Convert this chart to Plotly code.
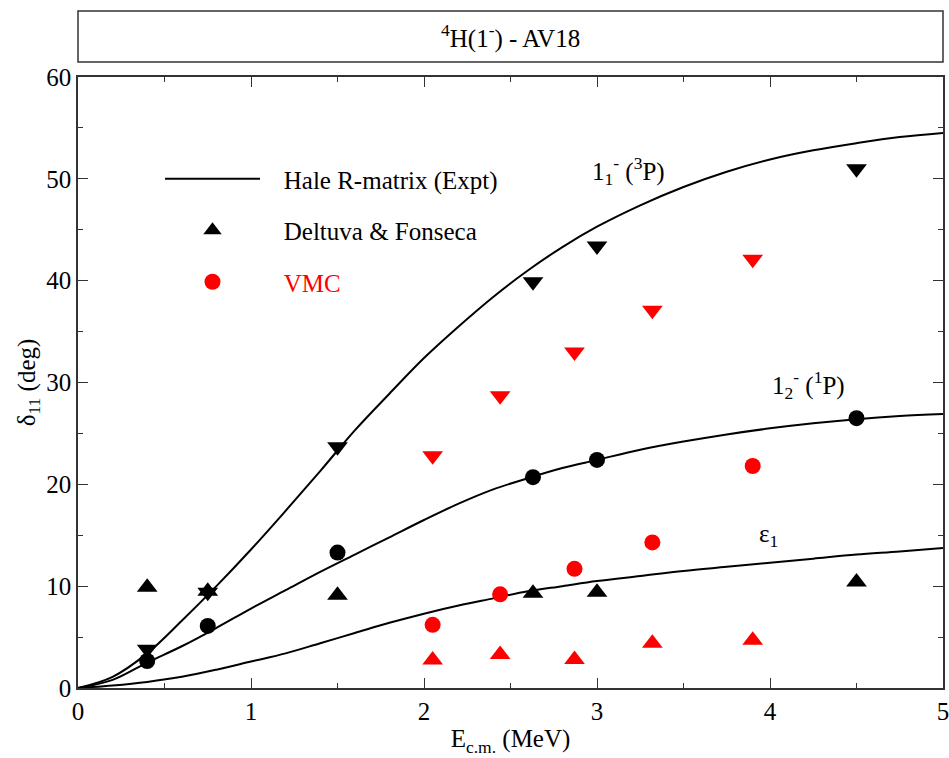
import plotly.graph_objects as go

# Hale R-matrix curves
curve_E = [0, 0.2, 0.4, 0.6, 0.8, 1.0, 1.2, 1.4, 1.6, 1.8, 2.0, 2.2, 2.4, 2.6, 2.8, 3.0,
           3.25, 3.5, 3.75, 4.0, 4.25, 4.5, 4.75, 5.0]
curve_3P = [0, 1.1, 3.4, 6.6, 10.0, 13.6, 17.4, 21.3, 25.3, 28.9, 32.4, 35.5, 38.4, 41.0, 43.3, 45.3,
            47.4, 49.2, 50.7, 51.9, 52.8, 53.5, 54.1, 54.5]
curve_1P = [0, 0.8, 2.5, 4.1, 5.9, 7.8, 9.6, 11.4, 13.1, 14.8, 16.5, 18.1, 19.5, 20.6, 21.6, 22.4,
            23.4, 24.2, 24.9, 25.5, 26.0, 26.4, 26.7, 26.9]
curve_eps = [0, 0.25, 0.6, 1.1, 1.8, 2.6, 3.4, 4.4, 5.4, 6.4, 7.3, 8.1, 8.8, 9.5, 10.0, 10.5,
             11.0, 11.5, 11.9, 12.3, 12.7, 13.1, 13.4, 13.75]

# Deltuva & Fonseca (black)
df_E = [0.4, 0.75, 1.5, 2.63, 3.0, 4.5]
df_3P = [3.8, 9.4, 23.7, 39.9, 43.4, 51.0]
df_1P = [2.65, 6.1, 13.3, 20.7, 22.4, 26.5]
df_eps = [9.9, 9.5, 9.1, 9.3, 9.4, 10.4]

# VMC (red)
vmc_E = [2.05, 2.44, 2.87, 3.32, 3.9]
vmc_3P = [22.8, 28.7, 33.0, 37.1, 42.1]
vmc_1P = [6.2, 9.2, 11.7, 14.3, 21.8]
vmc_eps = [2.75, 3.3, 2.8, 4.4, 4.7]

FONT = "Times New Roman, Liberation Serif, DejaVu Serif, serif"
RED = "#ff0000"
SP = "&nbsp;&nbsp;&nbsp;"

fig = go.Figure()

for i, c in enumerate([curve_3P, curve_1P, curve_eps]):
    fig.add_trace(go.Scatter(x=curve_E, y=c, mode="lines", line=dict(color="black", width=2),
                             name=SP + "Hale R-matrix (Expt)", showlegend=(i == 0),
                             legendgroup="g1", line_shape="spline"))

fig.add_trace(go.Scatter(x=df_E, y=df_eps, mode="markers",
                         marker=dict(symbol="triangle-up", size=18, color="black"),
                         name=SP + "Deltuva &amp; Fonseca", legendgroup="g2"))
fig.add_trace(go.Scatter(x=df_E, y=df_3P, mode="markers",
                         marker=dict(symbol="triangle-down", size=18, color="black"),
                         showlegend=False))
fig.add_trace(go.Scatter(x=df_E, y=df_1P, mode="markers",
                         marker=dict(symbol="circle", size=16, color="black"),
                         showlegend=False))

fig.add_trace(go.Scatter(x=vmc_E, y=vmc_1P, mode="markers",
                         marker=dict(symbol="circle", size=16, color=RED),
                         name=SP + '<span style="color:#ff0000">VMC</span>', legendgroup="g3"))
fig.add_trace(go.Scatter(x=vmc_E, y=vmc_3P, mode="markers",
                         marker=dict(symbol="triangle-down", size=18, color=RED),
                         showlegend=False))
fig.add_trace(go.Scatter(x=vmc_E, y=vmc_eps, mode="markers",
                         marker=dict(symbol="triangle-up", size=18, color=RED),
                         showlegend=False))

axis_common = dict(showline=True, linecolor="#333", linewidth=1.5, mirror="ticks",
                   ticks="inside", ticklen=10, tickwidth=1.2, tickcolor="#333",
                   showgrid=False, zeroline=False, automargin=False,
                   ticklabeloverflow="allow",
                   tickfont=dict(family=FONT, size=25, color="black"))

fig.update_xaxes(range=[0, 5], dtick=1, tick0=0,
                 minor=dict(ticks="inside", ticklen=5, dtick=0.5, tickcolor="#333", tickwidth=1.2),
                 title=dict(text="E<sub>c.m.</sub> (MeV)", font=dict(family=FONT, size=25, color="black"),
                            standoff=6),
                 **axis_common)
fig.update_yaxes(range=[0, 60], dtick=10, tick0=0,
                 minor=dict(ticks="inside", ticklen=5, dtick=5, tickcolor="#333", tickwidth=1.2),
                 title=dict(text="δ<sub>11</sub> (deg)", font=dict(family=FONT, size=25, color="black"),
                            standoff=4),
                 **axis_common)

H = 611.0
fig.add_shape(type="rect", xref="paper", yref="paper", x0=0, x1=1,
              y0=(688 - 62) / H, y1=(688 - 11) / H, line=dict(color="#333", width=1.5))
fig.add_annotation(xref="paper", yref="paper", x=0.5, y=(688 - 36) / H, yanchor="middle",
                   text="<sup>4</sup>H(1<sup>-</sup>) - AV18", showarrow=False,
                   font=dict(family=FONT, size=25, color="black"))

lab_font = dict(family=FONT, size=25, color="black")
fig.add_annotation(x=3.18, y=50.8, text="1<sub>1</sub><sup>-</sup> (<sup>3</sup>P)",
                   showarrow=False, font=lab_font)
fig.add_annotation(x=4.22, y=29.8, text="1<sub>2</sub><sup>-</sup> (<sup>1</sup>P)",
                   showarrow=False, font=lab_font)
fig.add_annotation(x=3.99, y=15.0, text="ε<sub>1</sub>", showarrow=False, font=lab_font)

fig.update_layout(
    width=949, height=758,
    margin=dict(l=78, r=6, t=77, b=70, autoexpand=False),
    plot_bgcolor="white", paper_bgcolor="white",
    font=dict(family=FONT, size=25, color="black"),
    legend=dict(x=(160 - 78) / 865, y=(688 - 156) / H, xanchor="left", yanchor="top",
                bgcolor="rgba(0,0,0,0)", itemwidth=95, tracegroupgap=16,
                traceorder="grouped", font=dict(family=FONT, size=25, color="black")),
)

fig.write_html("out.html")
